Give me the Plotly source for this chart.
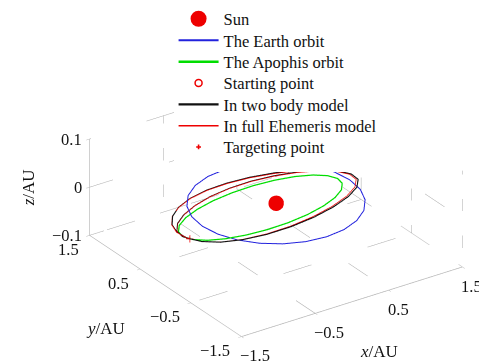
import plotly.graph_objects as go

# ---------------- data ----------------
x_ticks = [-1.5, -0.5, 0.5, 1.5]
y_ticks = [-1.5, -0.5, 0.5, 1.5]
z_ticks = [-0.1, 0.0, 0.1]
x_tick_labels = ["\u22121.5", "\u22120.5", "0.5", "1.5"]
y_tick_labels = ["\u22121.5", "\u22120.5", "0.5", "1.5"]
z_tick_labels = ["\u22120.1", "0", "0.1"]

sun_pos = [0.0, 0.0, 0.0]

earth_x = [1, 0.966, 0.866, 0.707, 0.5, 0.259, 0, -0.259, -0.5, -0.707, -0.866, -0.966, -1,
           -0.966, -0.866, -0.707, -0.5, -0.259, 0, 0.259, 0.5, 0.707, 0.866, 0.966, 1]
earth_y = [0, 0.259, 0.5, 0.707, 0.866, 0.966, 1, 0.966, 0.866, 0.707, 0.5, 0.259, 0,
           -0.259, -0.5, -0.707, -0.866, -0.966, -1, -0.966, -0.866, -0.707, -0.5, -0.259, 0]
earth_z = [0] * 25

apophis_x = [0.650, 0.738, 0.764, 0.728, 0.632, 0.482, 0.289, 0.066, -0.172, -0.409, -0.628, -0.816,
             -0.957, -1.045, -1.071, -1.035, -0.939, -0.789, -0.596, -0.373, -0.135, 0.102, 0.321, 0.509, 0.650]
apophis_y = [-0.363, -0.144, 0.092, 0.326, 0.545, 0.731, 0.875, 0.964, 0.994, 0.961, 0.869, 0.724,
             0.535, 0.316, 0.080, -0.155, -0.373, -0.560, -0.704, -0.793, -0.822, -0.790, -0.698, -0.552, -0.363]
apophis_z = [0.0349, 0.0254, 0.0135, 0.0002, -0.0137, -0.0272, -0.0394, -0.0496, -0.0568, -0.0609, -0.0612,
             -0.0580, -0.0514, -0.0418, -0.0300, -0.0167, -0.0028, 0.0108, 0.0230, 0.0331, 0.0403, 0.0444,
             0.0447, 0.0416, 0.0349]

start_point = [0.866, 0.500, 0.0]
target_point = [-1.062, 0.159, -0.034]

two_body_x = [0.866, 0.756, 0.567, 0.333, 0.075, -0.191, -0.446, -0.677, -0.872, -1.019, -1.114, -1.149,
              -1.123, -1.036, -0.887, -0.683, -0.436, -0.161, 0.124, 0.394, 0.629, 0.806, 0.900, 0.912,
              0.848, 0.718, 0.533, 0.312, 0.070, -0.179, -0.421, -0.642, -0.830, -0.971, -1.051, -1.062]
two_body_y = [0.500, 0.652, 0.859, 1.009, 1.090, 1.103, 1.049, 0.937, 0.774, 0.570, 0.337, 0.086,
              -0.168, -0.411, -0.629, -0.807, -0.928, -0.980, -0.957, -0.856, -0.683, -0.450, -0.176, 0.110,
              0.380, 0.619, 0.809, 0.946, 1.021, 1.036, 0.990, 0.888, 0.737, 0.543, 0.318, 0.159]
two_body_z = [0.0, -0.0135, -0.0250, -0.0335, -0.0391, -0.0419, -0.0428, -0.0419, -0.0396, -0.0360, -0.0307,
              -0.0235, -0.0141, -0.0026, 0.0106, 0.0242, 0.0368, 0.0468, 0.0532, 0.0544, 0.0506, 0.0419,
              0.0293, 0.0148, 0.0002, -0.0136, -0.0258, -0.0361, -0.0445, -0.0506, -0.0547, -0.0560,
              -0.0544, -0.0495, -0.0413, -0.034]

ephem_x = [0.866, 0.742, 0.557, 0.329, 0.074, -0.190, -0.445, -0.676, -0.875, -1.024, -1.118, -1.150,
           -1.119, -1.028, -0.878, -0.674, -0.429, -0.158, 0.121, 0.385, 0.614, 0.787, 0.880, 0.894,
           0.833, 0.707, 0.528, 0.310, 0.070, -0.179, -0.421, -0.642, -0.830, -0.971, -1.051, -1.062]
ephem_y = [0.500, 0.640, 0.845, 0.996, 1.079, 1.095, 1.045, 0.935, 0.776, 0.572, 0.338, 0.086,
           -0.168, -0.409, -0.623, -0.796, -0.913, -0.961, -0.937, -0.837, -0.666, -0.439, -0.172, 0.108,
           0.373, 0.610, 0.800, 0.939, 1.016, 1.033, 0.989, 0.888, 0.737, 0.543, 0.318, 0.159]
ephem_z = [0.0, -0.0135, -0.0250, -0.0335, -0.0391, -0.0419, -0.0428, -0.0419, -0.0396, -0.0360, -0.0307,
           -0.0235, -0.0141, -0.0026, 0.0106, 0.0242, 0.0368, 0.0468, 0.0532, 0.0544, 0.0506, 0.0419,
           0.0293, 0.0148, 0.0002, -0.0136, -0.0258, -0.0361, -0.0445, -0.0506, -0.0547, -0.0560,
           -0.0544, -0.0495, -0.0413, -0.034]

# ---------------- dashed grid built from the tick arrays ----------------
xmin, xmax = x_ticks[0], x_ticks[-1]
ymin, ymax = y_ticks[0], y_ticks[-1]
zmin, zmax = z_ticks[0], z_ticks[-1]
gx, gy, gz = [], [], []


def seg(p, q):
    gx.extend([p[0], q[0], None])
    gy.extend([p[1], q[1], None])
    gz.extend([p[2], q[2], None])


for xv in x_ticks[1:]:
    seg((xv, ymin, zmin), (xv, ymax, zmin))
for yv in y_ticks[1:]:
    seg((xmin, yv, zmin), (xmax, yv, zmin))
for zv in z_ticks:
    seg((xmin, ymax, zv), (xmax, ymax, zv))
    seg((xmax, ymin, zv), (xmax, ymax, zv))
for xv in x_ticks[1:]:
    seg((xv, ymax, zmin), (xv, ymax, zmax))
for yv in y_ticks:
    seg((xmax, yv, zmin), (xmax, yv, zmax))

FONT = "Liberation Serif"
RED = "#ee0000"
TICKFONT = dict(family=FONT, size=16.5, color="#111111")
KEYFONT = dict(family=FONT, size=16.5, color="#111111")

fig = go.Figure()
# blank white panel behind the key (first legend, drawn first)
fig.add_trace(go.Scatter3d(x=[None], y=[None], z=[None], mode="markers", legend="legend",
                           name="<br>".join(["\u00a0"] * 7), hoverinfo="skip",
                           marker=dict(size=1, color="rgba(0,0,0,0)", opacity=0)))
fig.add_trace(go.Scatter3d(x=gx, y=gy, z=gz, mode="lines", showlegend=False, hoverinfo="skip",
                           line=dict(color="#a9a9a9", width=1, dash="dash")))
fig.add_trace(go.Scatter3d(x=[sun_pos[0]], y=[sun_pos[1]], z=[sun_pos[2]], mode="markers", name="Sun",
                           showlegend=False, marker=dict(size=9, color=RED, line=dict(width=0))))
fig.add_trace(go.Scatter3d(x=[None], y=[None], z=[None], mode="markers", name="Sun", legend="legend2",
                           marker=dict(size=16, color=RED, line=dict(width=0))))
fig.add_trace(go.Scatter3d(x=earth_x, y=earth_y, z=earth_z, mode="lines", name="The Earth orbit",
                           legend="legend3", line=dict(color="#2222dd", width=2)))
fig.add_trace(go.Scatter3d(x=apophis_x, y=apophis_y, z=apophis_z, mode="lines", name="The Apophis orbit",
                           legend="legend4", line=dict(color="#00dd00", width=2.5)))
fig.add_trace(go.Scatter3d(x=[start_point[0]], y=[start_point[1]], z=[start_point[2]], mode="markers",
                           name="Starting point", showlegend=False,
                           marker=dict(size=4, color=RED, symbol="circle-open", line=dict(width=1.5, color=RED))))
fig.add_trace(go.Scatter3d(x=[None], y=[None], z=[None], mode="markers", name="Starting point",
                           legend="legend5",
                           marker=dict(size=7, color=RED, symbol="circle-open", line=dict(width=1.5, color=RED))))
fig.add_trace(go.Scatter3d(x=two_body_x, y=two_body_y, z=two_body_z, mode="lines", name="In two body model",
                           legend="legend6", line=dict(color="#111111", width=2.2)))
fig.add_trace(go.Scatter3d(x=ephem_x, y=ephem_y, z=ephem_z, mode="lines", name="In full Ehemeris model",
                           legend="legend7", line=dict(color=RED, width=1.4)))
fig.add_trace(go.Scatter3d(x=[target_point[0]], y=[target_point[1]], z=[target_point[2]], mode="markers",
                           name="Targeting point", legend="legend8",
                           marker=dict(size=4, color=RED, symbol="cross")))

axis_common = dict(showgrid=False, zeroline=False, showbackground=False, showspikes=False,
                   showline=True, linecolor="#b5b5b5", linewidth=1.5, ticks="inside", ticklen=4,
                   tickcolor="#b5b5b5", showticklabels=False, title=dict(text=""))

# tick labels placed at the tick positions through the scene's own coordinates
tick_annotations = []
for yv, lab in zip(y_ticks, y_tick_labels):
    tick_annotations.append(dict(x=xmin, y=yv, z=zmin, text=lab, showarrow=False, xanchor="right",
                                 yanchor="middle", xshift=-9, yshift=-14, font=TICKFONT))
for xv, lab in zip(x_ticks, x_tick_labels):
    tick_annotations.append(dict(x=xv, y=ymin, z=zmin, text=lab, showarrow=False, xanchor="left",
                                 yanchor="middle", xshift=-3, yshift=-19, font=TICKFONT))
for zv, lab in zip(z_ticks, z_tick_labels):
    tick_annotations.append(dict(x=xmin, y=ymax, z=zv, text=lab, showarrow=False, xanchor="right",
                                 yanchor="middle", xshift=-6, yshift=0, font=TICKFONT))

# key: a white panel plus one single-entry legend per row (keeps the tight row spacing)
legend_layouts = {"legend": dict(x=0.34, y=1.0, xanchor="left", yanchor="top",
                                 orientation="h", entrywidth=232, entrywidthmode="pixels",
                                 bgcolor="white", borderwidth=0, itemwidth=40, font=KEYFONT)}
legend_rows_px = [11, 32.5, 54, 75.3, 96.6, 118, 139.2]
for i, row in enumerate(legend_rows_px):
    legend_layouts["legend%d" % (i + 2)] = dict(
        x=0.34, y=1 - row / 362, xanchor="left", yanchor="middle", orientation="h",
        entrywidth=232, entrywidthmode="pixels", bgcolor="rgba(0,0,0,0)", borderwidth=0,
        itemwidth=40, font=KEYFONT)

ZOOM = 1.645
fig.update_layout(
    width=487, height=362,
    margin=dict(l=0, r=0, t=0, b=0, autoexpand=False),
    paper_bgcolor="white",
    font=dict(family=FONT, size=15, color="#111111"),
    scene=dict(
        domain=dict(x=[0.115, 0.985], y=[0.011, 0.911]),
        xaxis=dict(range=[xmin, xmax], tickvals=x_ticks, **axis_common),
        yaxis=dict(range=[ymin, ymax], tickvals=y_ticks, **axis_common),
        zaxis=dict(range=[zmin, zmax], tickvals=z_ticks, **axis_common),
        aspectmode="manual", aspectratio=dict(x=1 * ZOOM, y=1 * ZOOM, z=0.404 * ZOOM),
        camera=dict(eye=dict(x=-0.500 * 1.6, y=-0.727 * 1.6, z=0.455 * 1.6),
                    up=dict(x=0, y=0, z=1), center=dict(x=0, y=0, z=0),
                    projection=dict(type="orthographic")),
        annotations=tick_annotations,
    ),
    annotations=[
        dict(text="<i>x</i>/AU", x=0.762, y=0.05, xref="paper", yref="paper", showarrow=False,
             xanchor="center", yanchor="middle", font=dict(family=FONT, size=17)),
        dict(text="<i>y</i>/AU", x=0.2, y=0.114, xref="paper", yref="paper", showarrow=False,
             xanchor="center", yanchor="middle", font=dict(family=FONT, size=17)),
        dict(text="<i>z</i>/AU", x=0.042, y=0.503, xref="paper", yref="paper", showarrow=False,
             xanchor="center", yanchor="middle", textangle=-90, font=dict(family=FONT, size=17)),
    ],
    **legend_layouts,
)

fig.write_html("out.html")
